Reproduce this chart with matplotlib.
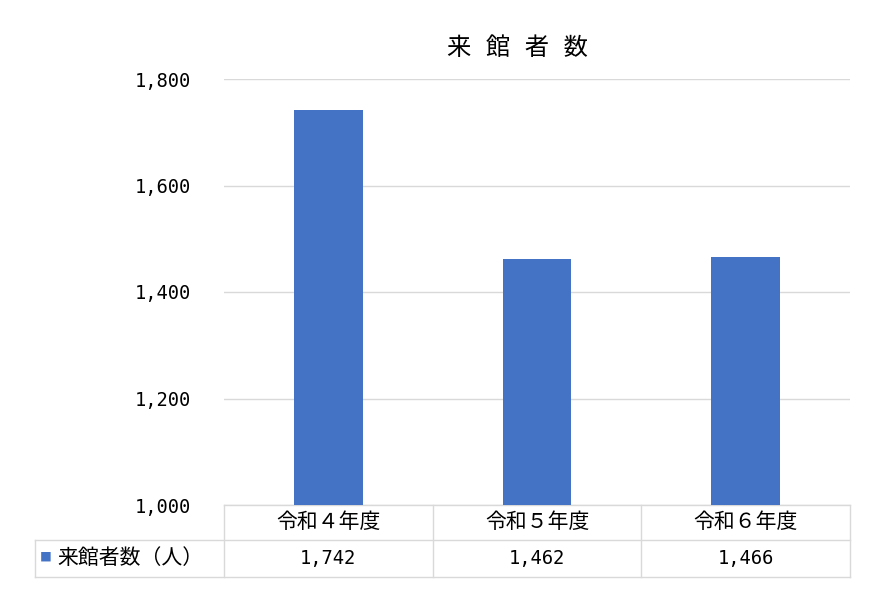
import matplotlib
matplotlib.use("Agg")
import matplotlib.pyplot as plt
import matplotlib.transforms as mtransforms

CJK = ['Noto Sans CJK JP', 'DejaVu Sans']
NUM = ['DejaVu Sans Mono', 'Noto Sans CJK JP']
plt.rcParams['font.family'] = CJK

categories = ['令和４年度', '令和５年度', '令和６年度']
values = [1742, 1462, 1466]
series_name = '来館者数（人）'
title = '来 館 者 数'
yticks = [1000, 1200, 1400, 1600, 1800]
ytick_labels = ['1,000', '1,200', '1,400', '1,600', '1,800']
value_labels = ['1,742', '1,462', '1,466']

BAR = '#4472C4'
GRID = '#D9D9D9'

fig = plt.figure(figsize=(8.75, 5.91), dpi=100)
ax = fig.add_axes([224/875, 1-505/591, 626/875, 426/591])
x = list(range(len(categories)))
ax.bar(x, values, width=0.33, color=BAR, zorder=3)
ax.set_xlim(-0.5, len(categories)-0.5)
ax.set_ylim(1000, 1800)
ax.set_yticks(yticks)
ax.set_yticklabels(ytick_labels, fontsize=13.5, family=NUM)
ax.tick_params(axis='y', length=0, pad=24)
ax.set_xticks([])
ax.grid(axis='y', color=GRID, linewidth=1, zorder=0)
for s in ax.spines.values():
    s.set_visible(False)

fig.text(517/875, 1-48/591, title, ha='center', va='center', fontsize=17.5,
         family=NUM)

# data table
trans = mtransforms.blended_transform_factory(ax.transData, ax.transAxes)
px = 426.0
y0 = 0.0
y1 = -35/px
y2 = -72/px
left = -0.5 - (224-35)/(626/len(categories))
lc = dict(color=GRID, linewidth=1, clip_on=False, transform=trans)
ax.plot([-0.5, len(categories)-0.5], [y0, y0], **lc)
ax.plot([left, len(categories)-0.5], [y1, y1], **lc)
ax.plot([left, len(categories)-0.5], [y2, y2], **lc)
for b in [i-0.5 for i in range(len(categories)+1)]:
    ax.plot([b, b], [y0, y2], **lc)
ax.plot([left, left], [y1, y2], **lc)

for i, (c, v) in enumerate(zip(categories, value_labels)):
    ax.text(i, (y0+y1)/2, c, transform=trans, ha='center', va='center', fontsize=15)
    ax.text(i, (y1+y2)/2, v, transform=trans, ha='center', va='center', fontsize=13.5,
            family=NUM)

ax.text(left + 0.025, (y1+y2)/2 + 0.004, '■', transform=trans, ha='left', va='center',
        fontsize=8.5, color=BAR)
ax.text(left + 0.105, (y1+y2)/2, series_name, transform=trans, ha='left', va='center',
        fontsize=15)

fig.savefig('out.png', dpi=100)
